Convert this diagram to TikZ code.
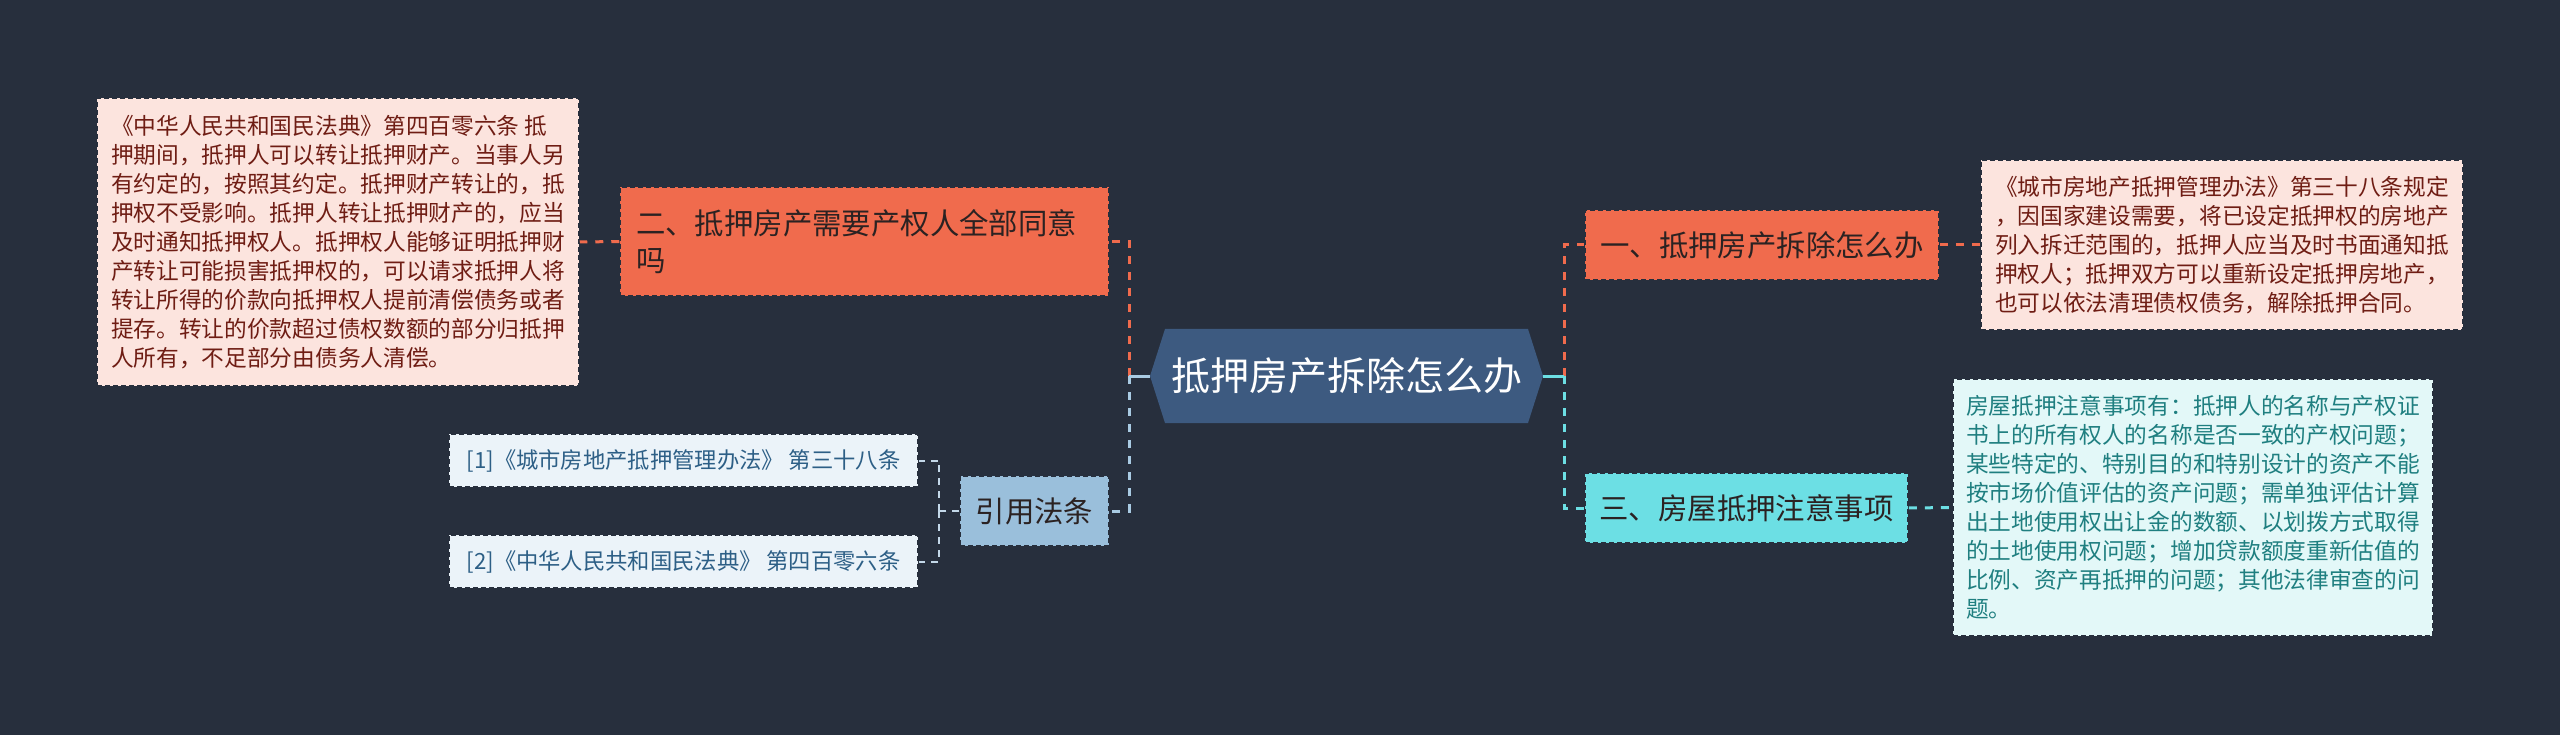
\documentclass[tikz,border=0pt]{standalone}
\usepackage{fontspec}
\setmainfont{Noto Sans CJK SC}
\definecolor{bg}{HTML}{272F3D}
\definecolor{rootfill}{HTML}{3D5A80}
\definecolor{orangefill}{HTML}{F06B4D}
\definecolor{pinkfill}{HTML}{FCE4DE}
\definecolor{maroon}{HTML}{6F1D14}
\definecolor{cyanfill}{HTML}{6CDFE4}
\definecolor{lcyanfill}{HTML}{E3F8F8}
\definecolor{tealtext}{HTML}{1F7F80}
\definecolor{steelfill}{HTML}{9ABFDB}
\definecolor{lbluefill}{HTML}{EBF3F9}
\definecolor{bluetext}{HTML}{2D5F86}
\definecolor{bluelink}{HTML}{A9CBE3}
\definecolor{citelink}{HTML}{C3D8E9}
\definecolor{darktext}{HTML}{2B2222}
\begin{document}
\begin{tikzpicture}[x=1pt,y=-1pt,
  boxline/.style={draw=bg, line width=1.5pt, dash pattern=on 5pt off 3pt},
  rootbox/.style={fill=bg, minimum width=393pt, minimum height=94pt, inner sep=0pt,
    text=white, font=\fontsize{39}{44}\selectfont,
    path picture={\fill[rootfill]
      ([xshift=15pt]path picture bounding box.north west) --
      ([xshift=-15pt]path picture bounding box.north east) --
      (path picture bounding box.east) --
      ([xshift=-15pt]path picture bounding box.south east) --
      ([xshift=15pt]path picture bounding box.south west) --
      (path picture bounding box.west) -- cycle;}},
  topicbox/.style={boxline, inner xsep=16pt, inner ysep=0pt, minimum height=70pt,
    font=\fontsize{29.4}{37}\selectfont, text=darktext, align=left},
  notebox/.style={boxline, inner xsep=12pt, inner ysep=0pt,
    font=\fontsize{22.7}{29}\selectfont, align=left},
  citebox/.style={boxline, fill=lbluefill, text=bluetext, minimum width=469pt,
    minimum height=53pt, inner sep=0pt, font=\fontsize{22.3}{26}\selectfont},
  link/.style={line width=3pt, dash pattern=on 8pt off 8pt},
  thinlink/.style={line width=2pt, dash pattern=on 7pt off 6pt, draw=citelink}
]
\useasboundingbox (0,0) rectangle (2560,735);
\fill[bg] (0,0) rectangle (2560,735);

% nodes
\node[rootbox] (root) at (1346.5,376) {抵押房产拆除怎么办};

\node[topicbox, fill=orangefill, minimum width=489pt, minimum height=109pt, text width=457pt]
  (n2) at (864.5,241.5) {二、抵押房产需要产权人全部同意\\吗};
\node[notebox, fill=pinkfill, text=maroon, minimum width=482pt, minimum height=288pt]
  (t2) at (338,242) {《中华人民共和国民法典》第四百零六条 抵\\
押期间，抵押人可以转让抵押财产。当事人另\\
有约定的，按照其约定。抵押财产转让的，抵\\
押权不受影响。抵押人转让抵押财产的，应当\\
及时通知抵押权人。抵押权人能够证明抵押财\\
产转让可能损害抵押权的，可以请求抵押人将\\
转让所得的价款向抵押权人提前清偿债务或者\\
提存。转让的价款超过债权数额的部分归抵押\\
人所有，不足部分由债务人清偿。};

\node[topicbox, fill=steelfill, minimum width=149pt, inner xsep=0pt, align=center]
  (cite) at (1034.5,511) {引用法条};
\node[citebox] (c1) at (683.5,460.5) {[1]《城市房地产抵押管理办法》 第三十八条};
\node[citebox] (c2) at (683.5,561.5) {[2]《中华人民共和国民法典》 第四百零六条};

\node[topicbox, fill=orangefill, minimum width=354pt, align=center, inner xsep=0pt]
  (n1) at (1762,245) {一、抵押房产拆除怎么办};
\node[notebox, fill=pinkfill, text=maroon, minimum width=482pt, minimum height=170pt]
  (t1) at (2222,245) {《城市房地产抵押管理办法》第三十八条规定\\
，因国家建设需要，将已设定抵押权的房地产\\
列入拆迁范围的，抵押人应当及时书面通知抵\\
押权人；抵押双方可以重新设定抵押房地产，\\
也可以依法清理债权债务，解除抵押合同。};

\node[topicbox, fill=cyanfill, minimum width=323pt, align=center, inner xsep=0pt]
  (n3) at (1746.5,508) {三、房屋抵押注意事项};
\node[notebox, fill=lcyanfill, text=tealtext, minimum width=480pt, minimum height=257pt]
  (t3) at (2193,507.5) {房屋抵押注意事项有：抵押人的名称与产权证\\
书上的所有权人的名称是否一致的产权问题；\\
某些特定的、特别目的和特别设计的资产不能\\
按市场价值评估的资产问题；需单独评估计算\\
出土地使用权出让金的数额、以划拨方式取得\\
的土地使用权问题；增加贷款额度重新估值的\\
比例、资产再抵押的问题；其他法律审查的问\\
题。};

% joints
\coordinate (ljoin) at (1129,376);
\coordinate (rjoin) at (1564,376);
\coordinate (cjoin) at (939,511);

% connectors left
\draw[link, draw=orangefill] (ljoin) |- (n2.east);
\draw[link, draw=bluelink] (ljoin) |- (cite.east);
\draw[line width=3pt, draw=bluelink] (root.west) -- (ljoin);
\draw[link, draw=orangefill] (n2.west) -- (t2.east);
\draw[thinlink] (cite.west) -- (cjoin);
\draw[thinlink] (cjoin) |- (c1.east);
\draw[thinlink] (cjoin) |- (c2.east);

% connectors right
\draw[link, draw=orangefill] (rjoin) |- (n1.west);
\draw[link, draw=cyanfill] (rjoin) |- (n3.west);
\draw[line width=3pt, draw=cyanfill] (root.east) -- (rjoin);
\draw[link, draw=orangefill] (n1.east) -- (t1.west);
\draw[link, draw=cyanfill] (n3.east) -- (t3.west);
\end{tikzpicture}
\end{document}
